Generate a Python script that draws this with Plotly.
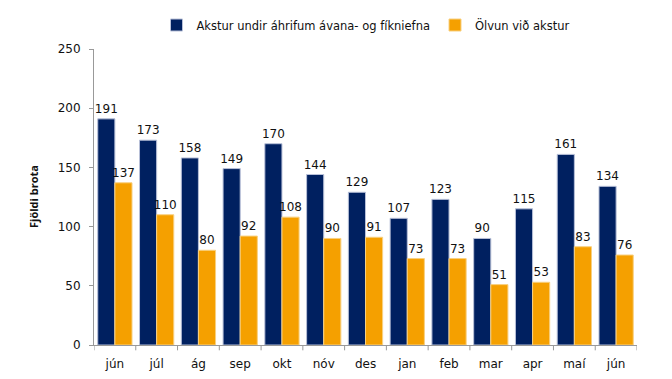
import plotly.graph_objects as go

months = ["jún", "júl", "ág", "sep", "okt", "nóv", "des", "jan", "feb", "mar", "apr", "maí", "jún"]
fikniefni = [191, 173, 158, 149, 170, 144, 129, 107, 123, 90, 115, 161, 134]
olvun = [137, 110, 80, 92, 108, 90, 91, 73, 73, 51, 53, 83, 76]
yticks = [0, 50, 100, 150, 200, 250]

xs = list(range(len(months)))

fig = go.Figure()
fig.add_trace(go.Bar(
    x=xs, y=fikniefni, name="Akstur undir áhrifum ávana- og fíkniefna",
    marker=dict(color="#002060", line=dict(width=1, color="#B8C0D8")),
    text=[str(v) for v in fikniefni], textposition="outside",
    textfont=dict(family="DejaVu Sans", size=12, color="#111111"),
    cliponaxis=False,
))
fig.add_trace(go.Bar(
    x=xs, y=olvun, name="Ölvun við akstur",
    marker=dict(color="#F5A000", line=dict(width=1, color="#F8D080")),
    text=[str(v) for v in olvun], textposition="outside",
    textfont=dict(family="DejaVu Sans", size=12, color="#111111"),
    cliponaxis=False,
))

# page body has an 8px default margin, so the figure is sized to fit inside it
fig.update_layout(
    width=664, height=371,
    margin=dict(l=86, r=35, t=41, b=34, autoexpand=False),
    paper_bgcolor="white", plot_bgcolor="white",
    barmode="group", bargap=0.18, bargroupgap=0.0,
    font=dict(family="DejaVu Sans", size=12, color="#111111"),
    showlegend=True,
    legend=dict(orientation="h", x=0.5, xanchor="center", y=1.081, yanchor="middle",
                font=dict(family="DejaVu Sans", size=11.5, color="#111111"),
                itemwidth=30, traceorder="normal"),
    uniformtext=dict(minsize=12, mode="show"),
)
fig.update_xaxes(
    tickmode="array", tickvals=xs, ticktext=months,
    range=[-0.5, len(months) - 0.5],
    showline=True, linecolor="#999999", linewidth=1,
    ticks="", showgrid=False, zeroline=False, ticklabelstandoff=8,
    tickfont=dict(family="DejaVu Sans", size=12, color="#111111"),
)
fig.update_yaxes(
    range=[0, 250], tickmode="array", tickvals=yticks,
    showline=True, linecolor="#999999", linewidth=1,
    ticks="outside", ticklen=4, tickcolor="#999999", ticklabelstandoff=6,
    showgrid=False, zeroline=False,
    tickfont=dict(family="DejaVu Sans", size=12, color="#111111"),
)
fig.add_annotation(
    text="<b>Fjöldi brota</b>", xref="paper", yref="paper", x=0, y=0.5,
    xanchor="center", yanchor="middle", xshift=-61, textangle=-90, showarrow=False,
    font=dict(family="Open Sans", size=11, color="#111111"),
)
# category boundary ticks on x axis
for i in range(len(months) + 1):
    fig.add_shape(type="line", xref="x", yref="paper", x0=i - 0.5, x1=i - 0.5, y0=0, y1=-0.018,
                  line=dict(color="#999999", width=1))

fig.write_html("out.html")
